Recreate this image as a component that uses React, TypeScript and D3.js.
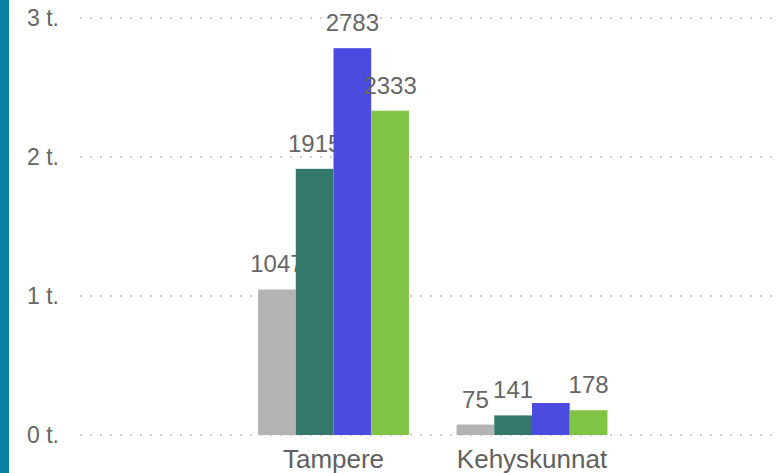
import { useRef, useEffect } from "react";
import * as d3 from "d3";

const categories = ["Tampere", "Kehyskunnat"];
const seriesNames = ["s1", "s2", "s3", "s4"];
const seriesColors = ["#b3b3b3", "#33786a", "#4b4be0", "#81c342"];
// values[series][category]
const values: number[][] = [
  [1047, 75],
  [1915, 141],
  [2783, 230],
  [2333, 178],
];
const yTicks = [0, 1000, 2000, 3000];

export default function App() {
  const ref = useRef<SVGSVGElement>(null);

  useEffect(() => {
    document.body.style.margin = "0";
    if (!ref.current) return;
    const svg = d3.select(ref.current); svg.selectAll("*").remove();
    const W = 780, H = 473;
    svg.attr("width", W).attr("height", H);
    const font = "'Liberation Sans', Arial, sans-serif";

    svg.append("rect").attr("x", 0).attr("y", 0).attr("width", 9).attr("height", H).attr("fill", "#0a7fa1");

    const y = d3.scaleLinear().domain([0, 3000]).range([435, 18]);
    const x0 = d3.scaleBand().domain(categories).range([234.25, 631.25]).paddingInner(0.24).paddingOuter(0.12);
    const x1 = d3.scaleBand().domain(seriesNames).range([0, x0.bandwidth()]).padding(0);

    svg.selectAll(".grid").data(yTicks).join("line")
      .attr("x1", 80).attr("x2", W).attr("y1", d => y(d)).attr("y2", d => y(d))
      .attr("stroke", "#cfcfcf").attr("stroke-width", 2).attr("stroke-dasharray", "2,8");
    svg.selectAll(".ylab").data(yTicks).join("text")
      .attr("x", 59).attr("y", d => y(d)).attr("dy", "0.35em").attr("text-anchor", "end")
      .attr("fill", "#666").attr("font-size", "23px").attr("font-family", font)
      .text(d => `${d / 1000} t.`);

    // each series: bars, then its labels (later series cover earlier labels)
    const placed: { x0: number; x1: number; y0: number; y1: number }[] = [];
    seriesNames.forEach((s, si) => {
      const g = svg.append("g");
      g.selectAll("rect").data(values[si]).join("rect")
        .attr("x", (_d, ci) => x0(categories[ci])! + x1(s)!).attr("width", x1.bandwidth())
        .attr("y", d => y(d)).attr("height", d => y(0) - y(d))
        .attr("fill", seriesColors[si]);
      values[si].forEach((v, ci) => {
        const cx = x0(categories[ci])! + x1(s)! + x1.bandwidth() / 2;
        const t = g.append("text").attr("x", cx).attr("y", y(v) - 17).attr("text-anchor", "middle")
          .attr("fill", "#666").attr("font-size", "24px").attr("font-family", font).text(String(v));
        const b = (t.node() as SVGTextElement).getBBox();
        const box = { x0: b.x, x1: b.x + b.width, y0: b.y + 3, y1: b.y + b.height - 3 };
        if (placed.some(p => box.x0 < p.x1 && box.x1 > p.x0 && box.y0 < p.y1 && box.y1 > p.y0)) t.remove();
        else placed.push(box);
      });
    });

    svg.selectAll(".xlab").data(categories).join("text")
      .attr("x", c => x0(c)! + x0.bandwidth() / 2).attr("y", 468).attr("text-anchor", "middle")
      .attr("fill", "#606060").attr("font-size", "26px").attr("font-family", font).text(c => c);
  }, []);

  return <svg ref={ref} style={{ display: "block" }} />;
}
